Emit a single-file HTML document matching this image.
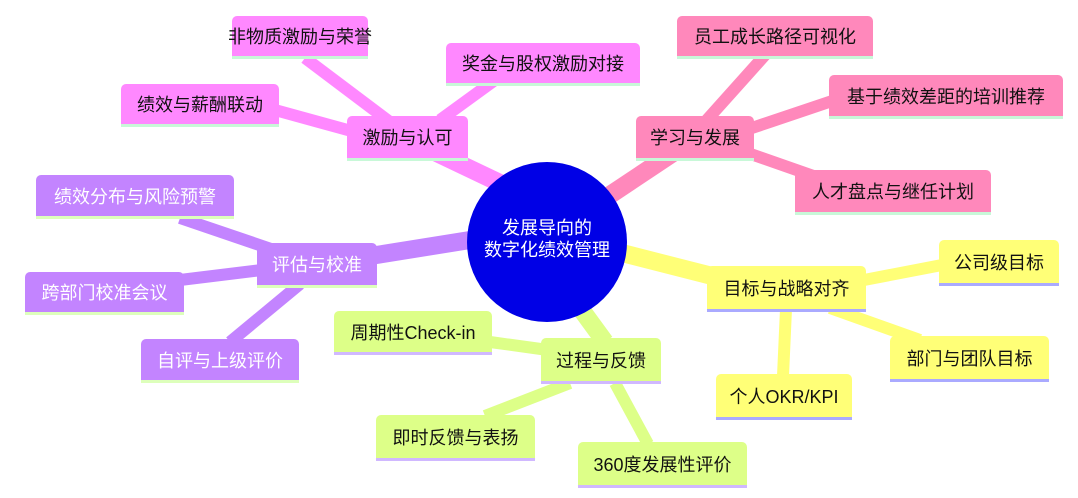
<!DOCTYPE html>
<html><head><meta charset="utf-8"><style>
body{margin:0;width:1078px;height:498px;background:#fff;position:relative;overflow:hidden;font-family:"Liberation Sans","Noto Sans CJK SC",sans-serif}
.n{position:absolute;box-sizing:border-box;display:flex;align-items:center;justify-content:center;font-size:18px;color:#111;border-radius:5px 5px 0 0;border-bottom:3px solid;white-space:nowrap}
.m{background:#ff88ff;border-bottom-color:#c8f8d8}
.p{background:#ff88bb;border-bottom-color:#c8f8d8}
.v{background:#c384ff;border-bottom-color:#ddffbb;color:#fff}
.y{background:#ffff77;border-bottom-color:#aaaaff}
.g{background:#ddff88;border-bottom-color:#d0b8ff}
svg{position:absolute;left:0;top:0}
</style></head><body>
<svg width="1078" height="498">
<g stroke-linecap="butt">
<g stroke="#ff88ff"><line x1="525" y1="195" x2="420" y2="145" stroke-width="18"/><line x1="305" y1="58" x2="390" y2="122" stroke-width="12"/><line x1="495" y1="80" x2="440" y2="120" stroke-width="12"/><line x1="275" y1="110" x2="355" y2="132" stroke-width="12"/></g>
<g stroke="#ff88bb"><line x1="610" y1="195" x2="685" y2="145" stroke-width="18"/><line x1="765" y1="55" x2="705" y2="122" stroke-width="12"/><line x1="835" y1="100" x2="740" y2="132" stroke-width="12"/><line x1="825" y1="180" x2="745" y2="152" stroke-width="12"/></g>
<g stroke="#c384ff"><line x1="470" y1="240" x2="370" y2="256" stroke-width="18"/><line x1="180" y1="218" x2="280" y2="252" stroke-width="12"/><line x1="180" y1="280" x2="262" y2="270" stroke-width="12"/><line x1="230" y1="342" x2="300" y2="284" stroke-width="12"/></g>
<g stroke="#ffff77"><line x1="622" y1="253" x2="720" y2="278" stroke-width="18"/><line x1="942" y1="265" x2="864" y2="280" stroke-width="12"/><line x1="920" y1="340" x2="830" y2="308" stroke-width="12"/><line x1="783" y1="376" x2="786" y2="309" stroke-width="12"/></g>
<g stroke="#ddff88"><line x1="578" y1="305" x2="605" y2="342" stroke-width="18"/><line x1="490" y1="342" x2="548" y2="350" stroke-width="12"/><line x1="485" y1="416" x2="570" y2="383" stroke-width="12"/><line x1="648" y1="444" x2="615" y2="383" stroke-width="12"/></g>
</g>
<circle cx="547" cy="242" r="80" fill="#0000e6"/>
<text x="547" y="234" fill="#fff" font-size="18" text-anchor="middle" font-family="Liberation Sans,Noto Sans CJK SC,sans-serif">发展导向的</text>
<text x="547" y="256" fill="#fff" font-size="18" text-anchor="middle" font-family="Liberation Sans,Noto Sans CJK SC,sans-serif">数字化绩效管理</text>
</svg>
<div class="n m" style="left:232px;top:16px;width:136px;height:43px">非物质激励与荣誉</div>
<div class="n m" style="left:446px;top:43px;width:194px;height:43px">奖金与股权激励对接</div>
<div class="n m" style="left:121px;top:84px;width:158px;height:43px">绩效与薪酬联动</div>
<div class="n m" style="left:347px;top:116px;width:121px;height:45px">激励与认可</div>
<div class="n p" style="left:677px;top:16px;width:196px;height:43px">员工成长路径可视化</div>
<div class="n p" style="left:829px;top:75px;width:234px;height:44px">基于绩效差距的培训推荐</div>
<div class="n p" style="left:636px;top:116px;width:118px;height:45px">学习与发展</div>
<div class="n p" style="left:795px;top:170px;width:196px;height:45px">人才盘点与继任计划</div>
<div class="n v" style="left:36px;top:175px;width:198px;height:44px">绩效分布与风险预警</div>
<div class="n v" style="left:257px;top:243px;width:120px;height:45px">评估与校准</div>
<div class="n v" style="left:25px;top:272px;width:159px;height:43px">跨部门校准会议</div>
<div class="n v" style="left:141px;top:339px;width:158px;height:44px">自评与上级评价</div>
<div class="n y" style="left:939px;top:240px;width:120px;height:46px">公司级目标</div>
<div class="n y" style="left:707px;top:266px;width:159px;height:46px">目标与战略对齐</div>
<div class="n y" style="left:890px;top:336px;width:159px;height:46px">部门与团队目标</div>
<div class="n y" style="left:716px;top:374px;width:136px;height:46px">个人OKR/KPI</div>
<div class="n g" style="left:334px;top:311px;width:158px;height:44px">周期性Check-in</div>
<div class="n g" style="left:541px;top:338px;width:120px;height:46px">过程与反馈</div>
<div class="n g" style="left:376px;top:415px;width:159px;height:46px">即时反馈与表扬</div>
<div class="n g" style="left:578px;top:442px;width:169px;height:46px">360度发展性评价</div>
</body></html>
